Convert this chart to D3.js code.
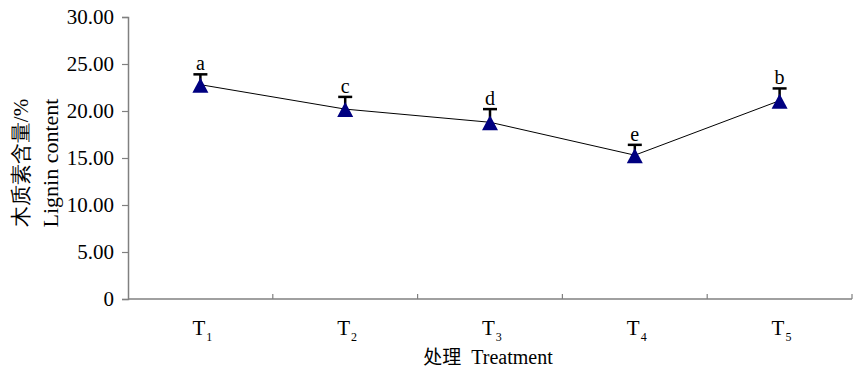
<!DOCTYPE html>
<html>
<head>
<style>
html, body {
    margin: 0;
    padding: 0;
    background: #fff;
    overflow: hidden;
}
svg text {
    font-family: "Liberation Serif", "Times New Roman", serif;
    fill: #000;
}
</style>
</head>
<body>
<script src="https://d3js.org/d3.v7.min.js"></script>
<script>
const categories = ["1", "2", "3", "4", "5"];
const values = [22.8, 20.2, 18.8, 15.3, 21.1];
const errors = [1.1, 1.3, 1.4, 1.1, 1.3];
const letters = ["a", "c", "d", "e", "b"];
const yTicks = [0, 5, 10, 15, 20, 25, 30];

const [width, height] = [860, 371];
const margin = {top: 17, right: 8, bottom: 72, left: 128};

const svg = d3.select("body").append("svg")
    .attr("width", width)
    .attr("height", height);

const x = d3.scaleBand()
    .domain(categories)
    .range([margin.left, width - margin.right]);

const y = d3.scaleLinear()
    .domain([0, 30])
    .range([height - margin.bottom, margin.top]);

const axisColor = "#808080";

// y axis
const yAxis = svg.append("g")
    .attr("transform", `translate(${margin.left},0)`)
    .call(d3.axisLeft(y).tickValues(yTicks).tickSize(6).tickPadding(8)
        .tickFormat(d => d === 0 ? "0" : d3.format(".2f")(d)));
yAxis.select(".domain").attr("stroke", axisColor).attr("stroke-width", 1.5);
yAxis.selectAll(".tick line").attr("stroke", axisColor).attr("stroke-width", 1.2);
yAxis.selectAll(".tick text")
    .attr("font-size", 21)
    .attr("font-family", "Liberation Serif, serif")
    .attr("fill", "#000");

// x axis: baseline with ticks at band boundaries
const xBase = y(0);
svg.append("line")
    .attr("x1", margin.left).attr("x2", width - margin.right)
    .attr("y1", xBase).attr("y2", xBase)
    .attr("stroke", axisColor).attr("stroke-width", 1.5);

const bounds = categories.map(c => x(c) + x.bandwidth());
svg.append("g").selectAll("line")
    .data(bounds)
    .join("line")
        .attr("x1", d => d).attr("x2", d => d)
        .attr("y1", xBase).attr("y2", xBase - 5)
        .attr("stroke", axisColor).attr("stroke-width", 1.2);

const cx = c => x(c) + x.bandwidth() / 2;

// category labels T with subscript
const catLabel = svg.append("g").selectAll("text")
    .data(categories)
    .join("text")
        .attr("x", d => cx(d) - 8)
        .attr("y", 335)
        .attr("font-size", 21);
catLabel.append("tspan").text("T");
catLabel.append("tspan")
    .attr("font-size", 12)
    .attr("dy", 6)
    .attr("dx", 1)
    .text(d => d);

// x title
svg.append("text")
    .attr("x", 488)
    .attr("y", 364)
    .attr("text-anchor", "middle")
    .attr("font-size", 20)
    .call(t => {
        t.append("tspan").attr("font-family", "Noto Sans CJK SC").attr("font-size", 19).text("处理");
        t.append("tspan").attr("dx", 10).text("Treatment");
    });

// y title, two lines rotated
const yTitle = svg.append("g")
    .attr("transform", `translate(0,${(margin.top + y(0)) / 2 + 5}) rotate(-90)`);
yTitle.append("text")
    .attr("x", 0).attr("y", 28)
    .attr("text-anchor", "middle")
    .attr("font-size", 21)
    .attr("font-family", "Noto Sans CJK SC")
    .text("木质素含量/%");
yTitle.append("text")
    .attr("x", 0).attr("y", 58)
    .attr("text-anchor", "middle")
    .attr("font-size", 22)
    .text("Lignin content");

const data = categories.map((c, i) => ({c, v: values[i], e: errors[i], l: letters[i]}));

// line
svg.append("path")
    .datum(data)
    .attr("fill", "none")
    .attr("stroke", "#000")
    .attr("stroke-width", 1)
    .attr("d", d3.line().x(d => cx(d.c)).y(d => y(d.v)));

// error bars (upper only)
const eb = svg.append("g").attr("stroke", "#000").attr("stroke-width", 2.5);
eb.selectAll("line.v")
    .data(data)
    .join("line")
        .attr("x1", d => cx(d.c)).attr("x2", d => cx(d.c))
        .attr("y1", d => y(d.v)).attr("y2", d => y(d.v + d.e));
eb.selectAll("line.cap")
    .data(data)
    .join("line")
        .attr("x1", d => cx(d.c) - 7).attr("x2", d => cx(d.c) + 7)
        .attr("y1", d => y(d.v + d.e)).attr("y2", d => y(d.v + d.e));

// triangle markers
svg.append("g").selectAll("path")
    .data(data)
    .join("path")
        .attr("transform", d => `translate(${cx(d.c)},${y(d.v) + 1})`)
        .attr("d", "M0,-8 L8,7 L-8,7 Z")
        .attr("fill", "#000080");

// significance letters
svg.append("g").selectAll("text")
    .data(data)
    .join("text")
        .attr("x", d => cx(d.c))
        .attr("y", d => y(d.v + d.e) - 4)
        .attr("text-anchor", "middle")
        .attr("font-size", 20)
        .text(d => d.l);
</script>
</body>
</html>
